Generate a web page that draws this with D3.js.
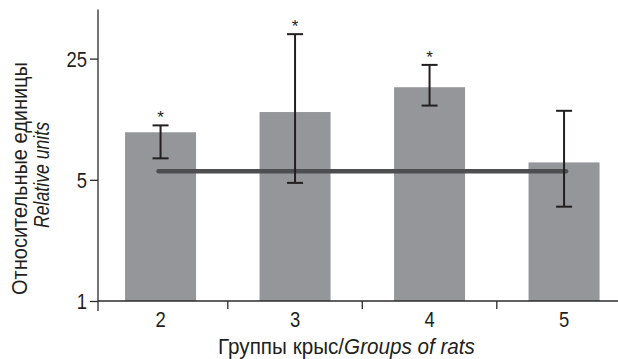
<!DOCTYPE html>
<html>
<head>
<meta charset="utf-8">
<script src="https://cdn.jsdelivr.net/npm/d3@7/dist/d3.min.js"></script>
<style>
  html, body { margin: 0; padding: 0; background: #fff; }
  svg { display: block; }
  text { font-family: "Liberation Sans", Arial, sans-serif; fill: #231f20; }
</style>
</head>
<body>
<svg id="chart" width="618" height="359"></svg>
<script>
// Groups of rats and their measured levels (relative units, log scale)
const groups = ["2", "3", "4", "5"];
const means = [9.4, 12.3, 17.1, 6.3];
const upper = [10.3, 34.6, 23.0, 12.5];
const lower = [6.65, 4.8, 13.4, 3.5];
const significant = [true, true, true, false];
const controlLevel = 5.6;
const yTicks = [1, 5, 25];

const svg = d3.select("#chart");
const narrow = 0.84; // horizontal squeeze giving a condensed face

const x = d3.scaleBand()
  .domain(groups)
  .range([93.3, 631.3])
  .paddingInner(0.472)
  .paddingOuter(0.236);

const y = d3.scaleLog()
  .domain([1, 48])
  .range([301, 9.5]);

const axisColor = "#2b2b2b";
const x0 = 98;

// bars
svg.append("g").selectAll("rect")
  .data(groups)
  .join("rect")
  .attr("x", d => x(d))
  .attr("width", x.bandwidth())
  .attr("y", (d, i) => y(means[i]))
  .attr("height", (d, i) => y(1) - y(means[i]))
  .attr("fill", "#95969a");

// control level line across the groups
const cx = d => x(d) + x.bandwidth() / 2;
svg.append("line")
  .attr("x1", cx(groups[0]) - 2)
  .attr("x2", cx(groups[groups.length - 1]) + 2)
  .attr("y1", y(controlLevel))
  .attr("y2", y(controlLevel))
  .attr("stroke", "#4d4e50")
  .attr("stroke-width", 4.5)
  .attr("stroke-linecap", "round");

// error bars
const eb = svg.append("g").attr("stroke", "#231f20").attr("stroke-width", 2);
groups.forEach((g, i) => {
  const c = cx(g);
  eb.append("line").attr("x1", c).attr("x2", c).attr("y1", y(upper[i])).attr("y2", y(lower[i]));
  eb.append("line").attr("x1", c - 8).attr("x2", c + 8).attr("y1", y(upper[i])).attr("y2", y(upper[i]));
  eb.append("line").attr("x1", c - 8).attr("x2", c + 8).attr("y1", y(lower[i])).attr("y2", y(lower[i]));
});

// significance stars
svg.append("g").selectAll("text")
  .data(groups.filter((g, i) => significant[i]))
  .join("text")
  .attr("transform", d => `translate(${cx(d)},${y(upper[groups.indexOf(d)]) - 2})`)
  .attr("text-anchor", "middle")
  .attr("font-size", 17)
  .text("*");

// y axis
const yAxis = svg.append("g").attr("transform", `translate(${x0},0)`)
  .call(d3.axisLeft(y).tickValues(yTicks).tickFormat(d3.format("d")).tickSize(8).tickPadding(3));
yAxis.select(".domain").remove();
yAxis.append("line").attr("x1", 0).attr("x2", 0).attr("y1", 9.5).attr("y2", 311)
  .attr("stroke", axisColor).attr("stroke-width", 1.3);
yAxis.selectAll(".tick line").attr("stroke", axisColor).attr("stroke-width", 1.3);
yAxis.selectAll(".tick text")
  .attr("font-size", 22)
  .attr("font-family", "'Liberation Sans', Arial, sans-serif")
  .attr("fill", "#231f20")
  .attr("x", null)
  .attr("dy", "0.36em")
  .attr("transform", `translate(-11,0) scale(${narrow},1)`);

// x axis baseline and separators between groups
const xg = svg.append("g");
xg.append("line").attr("x1", x0).attr("x2", 618).attr("y1", y(1)).attr("y2", y(1))
  .attr("stroke", axisColor).attr("stroke-width", 1.3);
const step = x.step();
xg.selectAll("line.sep")
  .data(groups.slice(0, -1))
  .join("line")
  .attr("class", "sep")
  .attr("x1", d => cx(d) + step / 2)
  .attr("x2", d => cx(d) + step / 2)
  .attr("y1", y(1))
  .attr("y2", y(1) + 8)
  .attr("stroke", axisColor).attr("stroke-width", 1.3);
xg.selectAll("text.lab")
  .data(groups)
  .join("text")
  .attr("class", "lab")
  .attr("transform", d => `translate(${cx(d)},327) scale(${narrow},1)`)
  .attr("text-anchor", "middle")
  .attr("font-size", 22)
  .text(d => d);

// squeeze a title horizontally so it spans the given width
function fitWidth(sel, target) {
  const w = sel.node().getComputedTextLength();
  return target / w;
}

// axis titles
const xt = svg.append("text")
  .attr("text-anchor", "middle")
  .attr("font-size", 22);
xt.append("tspan").text("Группы крыс/");
xt.append("tspan").attr("font-style", "italic").text("Groups of rats");
xt.attr("transform", `translate(346.5,354) scale(${fitWidth(xt, 257)},1)`);

const yt1 = svg.append("text")
  .attr("text-anchor", "middle")
  .attr("font-size", 22)
  .text("Относительные единицы");
yt1.attr("transform", `translate(27,178.5) rotate(-90) scale(${fitWidth(yt1, 233)},1)`);

const yt2 = svg.append("text")
  .attr("text-anchor", "middle")
  .attr("font-size", 22)
  .attr("font-style", "italic")
  .text("Relative units");
yt2.attr("transform", `translate(49,175) rotate(-90) scale(${fitWidth(yt2, 106)},1)`);
</script>
</body>
</html>
